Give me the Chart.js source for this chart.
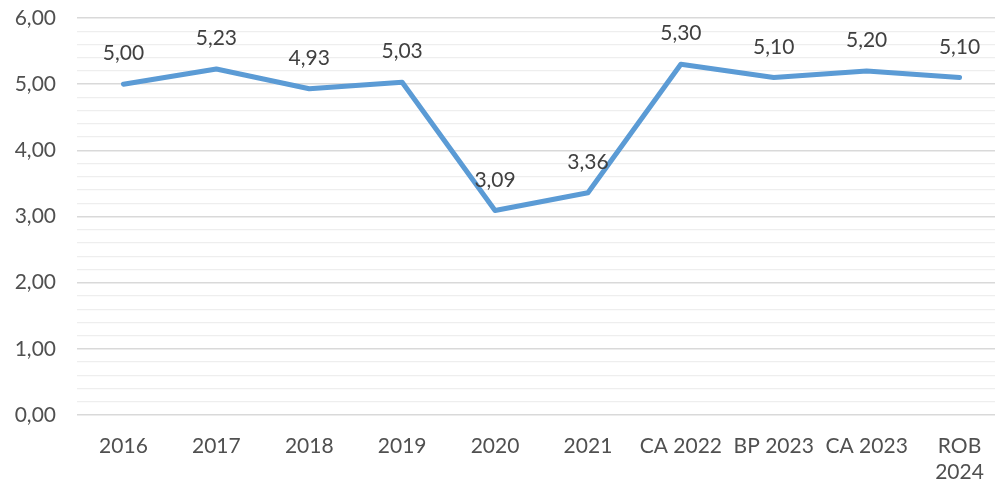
<!DOCTYPE html>
<html>
<head>
<meta charset="utf-8">
<script src="https://cdn.jsdelivr.net/npm/chart.js@4/dist/chart.umd.min.js"></script>
<style>
  html, body { margin: 0; padding: 0; background: #fff; overflow: hidden; }
  #wrap { width: 1006px; height: 486px; position: relative; }
</style>
</head>
<body>
<div id="wrap"><canvas id="chart"></canvas></div>
<script>
const categories = ['2016', '2017', '2018', '2019', '2020', '2021', 'CA 2022', 'BP 2023', 'CA 2023', ['ROB', '2024']];
const values = [5.00, 5.23, 4.93, 5.03, 3.09, 3.36, 5.30, 5.10, 5.20, 5.10];
const yMin = 0;
const yMax = 6;
const yStep = 0.2;

const FONT = 'Lato, "Open Sans", sans-serif';

function fmt(v) {
    return v.toFixed(2).replace('.', ',');
}

function isMajor(v) {
    return Math.abs(v - Math.round(v)) < 1e-6;
}

// draws the value above each point, like excel data labels
const valueLabels = {
    id: 'valueLabels',
    afterDatasetsDraw: function (chart) {
        const ctx = chart.ctx;
        const meta = chart.getDatasetMeta(0);
        ctx.save();
        ctx.font = '21px ' + FONT;
        ctx.fillStyle = '#404040';
        ctx.textAlign = 'center';
        ctx.textBaseline = 'alphabetic';
        meta.data.forEach((pt, i) => {
            ctx.fillText(fmt(values[i]), pt.x, pt.y - 24);
        });
        ctx.restore();
    }
};

new Chart(document.getElementById('chart'), {
    type: 'line',
    data: {
        labels: categories,
        datasets: [{
            data: values,
            borderColor: '#5B9BD5',
            borderWidth: 5,
            borderJoinStyle: 'round',
            borderCapStyle: 'round',
            pointRadius: 0,
            tension: 0,
            fill: false
        }]
    },
    options: {
        responsive: true,
        maintainAspectRatio: false,
        animation: false,
        layout: { padding: { top: 18, left: 0, right: 0, bottom: 0 } },
        plugins: {
            legend: { display: false },
            tooltip: { enabled: false }
        },
        scales: {
            x: {
                offset: true,
                grid: { display: false, drawTicks: false },
                border: { display: false },
                ticks: {
                    color: '#505050',
                    font: { family: FONT, size: 21 },
                    padding: 19,
                    maxRotation: 0,
                    autoSkip: false
                },
                afterFit: function (scale) {
                    scale.height = 71;
                    scale.paddingLeft = 0;
                    scale.paddingRight = 0;
                }
            },
            y: {
                min: yMin,
                max: yMax,
                grid: {
                    drawTicks: false,
                    color: ctx => isMajor(ctx.tick.value) ? '#d9d9d9' : '#eeeeee',
                    lineWidth: ctx => isMajor(ctx.tick.value) ? 1.5 : 1.2
                },
                border: { display: false },
                ticks: {
                    stepSize: yStep,
                    autoSkip: false,
                    color: '#505050',
                    font: { family: FONT, size: 21 },
                    padding: 21,
                    callback: v => isMajor(v) ? fmt(v) : ''
                },
                afterFit: function (scale) {
                    scale.width = 77;
                    scale.paddingTop = 0;
                    scale.paddingBottom = 0;
                }
            }
        }
    },
    plugins: [valueLabels]
});
</script>
</body>
</html>
